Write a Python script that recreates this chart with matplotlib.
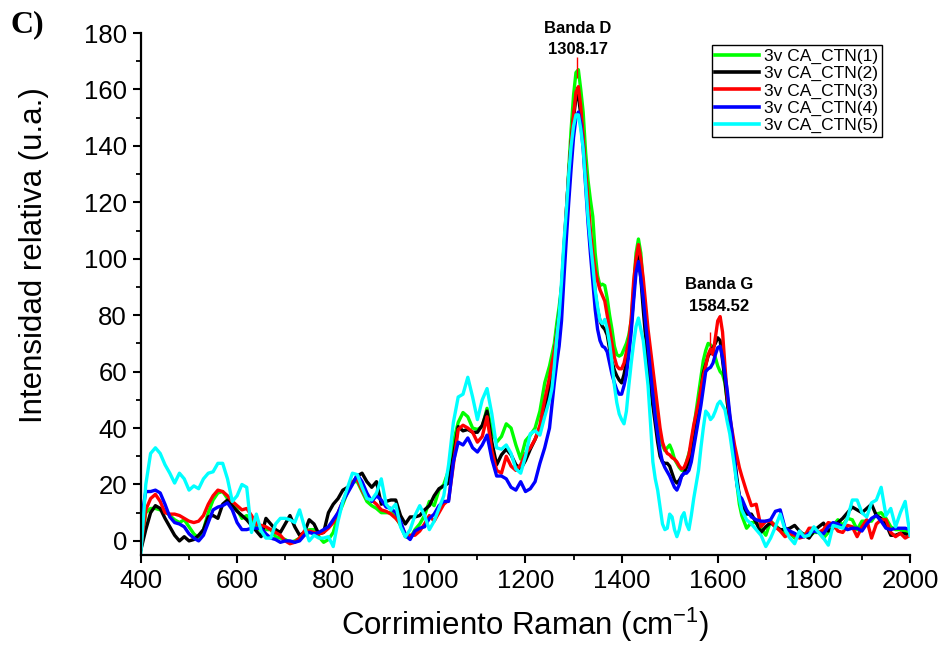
import numpy as np
import matplotlib
matplotlib.use("Agg")
import matplotlib.pyplot as plt
from matplotlib.ticker import MultipleLocator

plt.rcParams['font.family'] = ['Liberation Sans', 'DejaVu Sans']

# Raman shift grid (cm-1): coarse outside the bands, finer across D / G bands
shift = np.concatenate([np.arange(400, 1250, 10),
                        np.arange(1250, 1650, 5),
                        np.arange(1650, 2001, 10)])

labels = ["3v CA_CTN(1)", "3v CA_CTN(2)", "3v CA_CTN(3)", "3v CA_CTN(4)", "3v CA_CTN(5)"]
colors = ["#00ff00", "#000000", "#ff0000", "#0000ff", "#00ffff"]

ctn1 = [
    # 400 - 1240 (step 10)
    -3, 10, 11.5, 11.5, 11, 10.5, 9, 7.5, 6.5, 7.5,
    5, 2.5, 1, 4, 10, 14.5, 17, 17.5, 15, 13,
    11, 8, 9, 7, 5, 3.5, 4, 4, 1.5, 1,
    0.5, -0.5, 0, 1, 2.5, 4, 4, 1.5, -0.5, 0.5,
    3, 9, 13, 17.5, 21, 21, 17.5, 14, 12.5, 11.5,
    10, 10, 10, 8.5, 5.5, 1.5, 1, 4, 6, 9,
    14, 12.5, 18, 20, 25, 35, 42, 45.5, 44, 40,
    39.5, 40.5, 47, 39, 35, 37, 41.5, 40, 34, 29,
    35.5, 37.5, 40, 46, 56,
    # 1250 - 1645 (step 5)
    62, 66, 70, 77, 83, 90, 97, 115, 132, 146,
    158, 166, 167, 160, 152, 138, 128, 121, 115, 102,
    94, 90.5, 91, 90.5, 86, 80, 75, 69, 66, 65.5,
    66, 68, 70, 73, 78, 90, 102, 107, 102, 90,
    79, 71, 63, 57, 51, 44, 38, 34, 32, 33,
    34, 32, 29, 27.5, 26, 25, 25, 28, 31, 34,
    40, 46, 52, 58, 64, 67.5, 70, 69.5, 68, 65,
    62, 60, 59, 56, 49, 42, 36, 28, 20, 13,
    # 1650 - 2000 (step 10)
    9, 4.5, 6.5, 6.5, 4.5, 2, 7, 5.5, 4, 3,
    2.7, 1, 1.5, 2.5, 1.5, 3, 3, 1, 3, 5.5,
    7.5, 5.5, 8, 7.5, 4, 7, 7, 7, 9.5, 10,
    8, 5, 4, 4, 3.5, 2.7,
]

ctn2 = [
    -3, 4, 10, 12.5, 11.5, 8, 5, 2, 0, 1.5,
    0, 0.5, 2, 4, 8.5, 9, 8, 13, 14.5, 12.5,
    10.5, 9, 7.5, 5.5, 3.5, 1.5, 8, 6, 4, 3,
    6, 9, 5, 2, 3, 7.5, 6, 2.5, 3, 10,
    13, 15, 18, 19, 20.5, 23, 24, 21, 19, 21,
    13, 14, 14.5, 14.5, 9, 6, 8.5, 8.5, 9, 11,
    12.5, 16, 18.5, 19.5, 20.5, 30, 40.5, 39, 39.5, 38.5,
    38.5, 41, 46, 35, 27, 30.5, 32.5, 30.5, 27, 25.5,
    28.5, 32.5, 36, 40, 46,
    55, 61, 66, 73, 80, 90, 104, 117, 130, 141,
    150, 157, 158, 151, 141, 129, 118, 107, 98, 88,
    82, 78, 76, 75, 73, 68, 63.5, 60.5, 58.5, 57,
    56, 59, 63.5, 70, 76, 87, 99, 102, 93, 82,
    72, 62, 55, 48, 41.5, 35, 30, 28, 27.5, 27.5,
    26.5, 24, 21.5, 20.5, 21.5, 23, 24, 26, 28, 31,
    35, 40, 46, 53, 59.5, 62.5, 65.5, 67, 68.5, 70,
    72, 71, 64, 57, 49, 42, 36, 29, 22, 16,
    13, 9.5, 9.5, 6.5, 3, 5, 6.5, 5, 4, 4,
    4.5, 5.5, 3.5, 2, 1, 3.5, 5, 6.3, 3.5, 4.5,
    6.5, 8, 10, 12, 11, 10, 11.5, 13, 9, 8,
    6, 2, 2, 2.7, 2.5, 2,
]

ctn3 = [
    -2, 11, 15, 16.5, 14, 10, 9.5, 9.5, 9, 8,
    7, 6.5, 7, 9, 13, 16, 18, 17.5, 16, 14,
    12.5, 11, 11.5, 9, 6, 5.5, 5, 4, 3, 2,
    0, -1, -0.5, 1, 3.5, 3.5, 3, 2.5, 3, 4.5,
    6.5, 10, 14, 18, 21, 22, 18, 15, 14.5, 13,
    11, 10.5, 9.5, 8, 6, 2.5, 2, 2, 3.5, 6,
    9, 7, 10, 13, 14.5, 27, 39.5, 41, 40, 38.5,
    35, 37, 44, 32, 25, 24, 30, 26.5, 25, 27,
    31, 33, 36, 41, 50,
    58, 63, 67, 73, 79, 88, 102, 117, 130, 141,
    151, 159, 161, 154, 143, 131, 121, 110, 102, 96,
    92, 89, 87, 85, 80, 75, 70, 65, 62, 61,
    61, 63, 67, 71, 79, 92, 100, 105, 100, 93,
    84, 75, 68, 61, 54, 47, 40, 35, 32.5, 31,
    30.5, 29.5, 29, 28, 26.5, 25.5, 26, 28, 30.5, 36,
    41, 45, 49, 54, 58.5, 62, 66, 68, 66, 72,
    78, 79.5, 74, 62, 51, 44, 39, 34, 30, 26,
    23, 17.5, 12.5, 13, 5, 7, 7, 5, 3.5, 1.5,
    2.5, 2, 1, 1.5, 4.5, 4.5, 3, 4, 6.5, 6,
    3.5, 3, 5.5, 5, 1.5, 5, 7.5, 1, 6, 7.5,
    7.5, 3, 1.5, 2.7, 1, 2,
]

ctn4 = [
    7, 17.5, 17.5, 18, 17, 13, 8.5, 6.5, 6, 5,
    2.5, 1, 0, 2, 6.5, 11, 12, 12.5, 13.5, 11,
    6.5, 4, 4, 4.5, 4.5, 4.5, 2.5, 1, 0.5, -0.5,
    0, 0, -0.5, 0, 2, 3, 2.5, 3, 4, 5,
    7.5, 10, 14, 17, 20, 23.5, 21, 17, 14, 16,
    14.5, 12, 11.5, 10, 7, 2, 0.5, 3.5, 4.5, 5,
    8, 9.5, 12.5, 14, 14, 28, 35, 34, 36.5, 33,
    31.5, 34, 37.5, 29, 23, 23, 22, 19, 18, 21,
    17.5, 18.5, 21, 27.5, 33,
    40, 48, 56, 63, 69, 78, 93, 107, 120, 132,
    143, 150, 152, 148, 139, 126, 113, 102, 92, 82,
    75, 71, 69, 68.5, 67, 63, 59, 56, 53.5, 52,
    52, 55, 59, 66, 74, 85, 95, 99, 93, 86,
    77, 69, 60, 52, 44, 38, 32, 28, 26, 24.5,
    23, 21, 19, 18, 20, 23, 24, 24, 25, 28,
    33, 38, 43, 48, 54, 60, 61, 61.5, 63, 66,
    68.5, 69, 65, 59, 53, 45, 38, 29, 20, 16,
    15, 11, 8.5, 7.5, 7, 7, 7.5, 10.5, 11, 4.5,
    3.5, 2.7, 1.5, 1.5, 2.7, 3.5, 3, 2.5, 5, 6.5,
    6, 5, 4, 4.5, 4.5, 3.5, 6, 8, 9, 7,
    4.5, 4, 4.5, 4.5, 4.5, 4,
]

ctn5 = [
    -4, 20, 31, 33, 31, 27, 24, 20.5, 24, 22,
    18, 19.5, 18.5, 22, 24, 24.5, 27.5, 27.5, 22, 14,
    16, 20, 19, 3, 9.5, 3.5, 1, 1, 6, 8,
    8, 7.5, 6.5, 11, 5, 0, 2, 1, 1, 1.5,
    -2, 7, 14, 19, 24, 23.5, 19, 15, 14.5, 17,
    22, 13, 11, 13, 5, 1.5, 4, 9, 12.5, 9,
    4, 7, 11.5, 16, 27, 42, 51, 52, 58, 51,
    43, 50, 54, 45, 33, 32.5, 34, 31, 25.5, 24,
    30, 38, 39, 37.5, 44,
    50, 54, 62, 72, 80, 92, 106, 117, 130, 140,
    147, 151, 151, 146, 139, 127, 115, 106, 98, 89,
    83, 78, 77, 78.5, 75, 70, 63, 55, 49, 45,
    43, 41.5, 46, 55, 63, 70, 76, 79, 75, 71,
    63, 55, 42, 28, 22, 18, 12, 6, 4, 4.5,
    9.5, 8.5, 4, 1.5, 4, 8.5, 10, 6, 4, 9,
    15, 20, 25, 33, 40, 46, 45, 43, 44, 46,
    48.5, 49.5, 48, 46.5, 42, 38, 32, 26, 20, 15,
    11, 7.5, 6, 4, 2, -2, 1, 5, 9.5, 4,
    1, -1, 3.5, 1.5, 2, 5, 3, 1, -1.5, 5.5,
    5, 4.5, 8, 14.5, 14.5, 10, 8.5, 13.5, 14.5, 19,
    9, 11.5, 5, 10, 14, 2,
]

series = [ctn1, ctn2, ctn3, ctn4, ctn5]

fig = plt.figure(figsize=(9.43, 6.45), dpi=100)
ax = fig.add_axes([0.1495, 0.1395, 0.8155, 0.8093])

for y, c, lab in zip(series, colors, labels):
    ax.plot(shift, y, color=c, lw=2.4, label=lab, solid_joinstyle='round')

# peak markers
ax.vlines(1308.17, 164, 171.5, color='red', lw=1, zorder=5, clip_on=False)
ax.vlines(1584.52, 66.8, 74, color='red', lw=1, zorder=5)
ax.text(1309, 181.5, "Banda D", ha='center', va='center', fontsize=12, fontweight='bold')
ax.text(1309, 174, "1308.17", ha='center', va='center', fontsize=12, fontweight='bold')
ax.text(1603, 91, "Banda G", ha='center', va='center', fontsize=12, fontweight='bold')
ax.text(1603, 83, "1584.52", ha='center', va='center', fontsize=12, fontweight='bold')

ax.set_xlim(400, 2000)
ax.set_ylim(-5, 180)
ax.xaxis.set_major_locator(MultipleLocator(200))
ax.xaxis.set_minor_locator(MultipleLocator(100))
ax.yaxis.set_major_locator(MultipleLocator(20))
ax.yaxis.set_minor_locator(MultipleLocator(10))

for s in ['top', 'right']:
    ax.spines[s].set_visible(False)
for s in ['left', 'bottom']:
    ax.spines[s].set_linewidth(1.6)

ax.tick_params(which='major', direction='out', length=6, width=1.5, labelsize=18.5, pad=4)
ax.tick_params(which='minor', direction='out', length=3.5, width=1.3)

ax.set_xlabel("Corrimiento Raman (cm$^{\\mathregular{-1}}$)", fontsize=22.5)
ax.set_ylabel("Intensidad relativa (u.a.)", fontsize=22.5)
ax.yaxis.set_label_coords(-0.12, 0.575)
ax.xaxis.set_label_coords(0.5, -0.097)

leg = ax.legend(loc='upper left', bbox_to_anchor=(712 / 943, 1 - 45 / 645),
                bbox_transform=fig.transFigure, fontsize=12.5, frameon=True,
                fancybox=False, edgecolor='black', framealpha=1, borderaxespad=0,
                borderpad=0.2, labelspacing=0.12, handlelength=2.5, handletextpad=0.3)
leg.get_frame().set_linewidth(1.0)
for h in leg.get_lines():
    h.set_linewidth(2.6)

fig.text(10 / 943, 1 - 10 / 645, "C)", family='Liberation Serif', fontweight='bold',
         fontsize=23, ha='left', va='top')

fig.savefig("out.png", dpi=100)
